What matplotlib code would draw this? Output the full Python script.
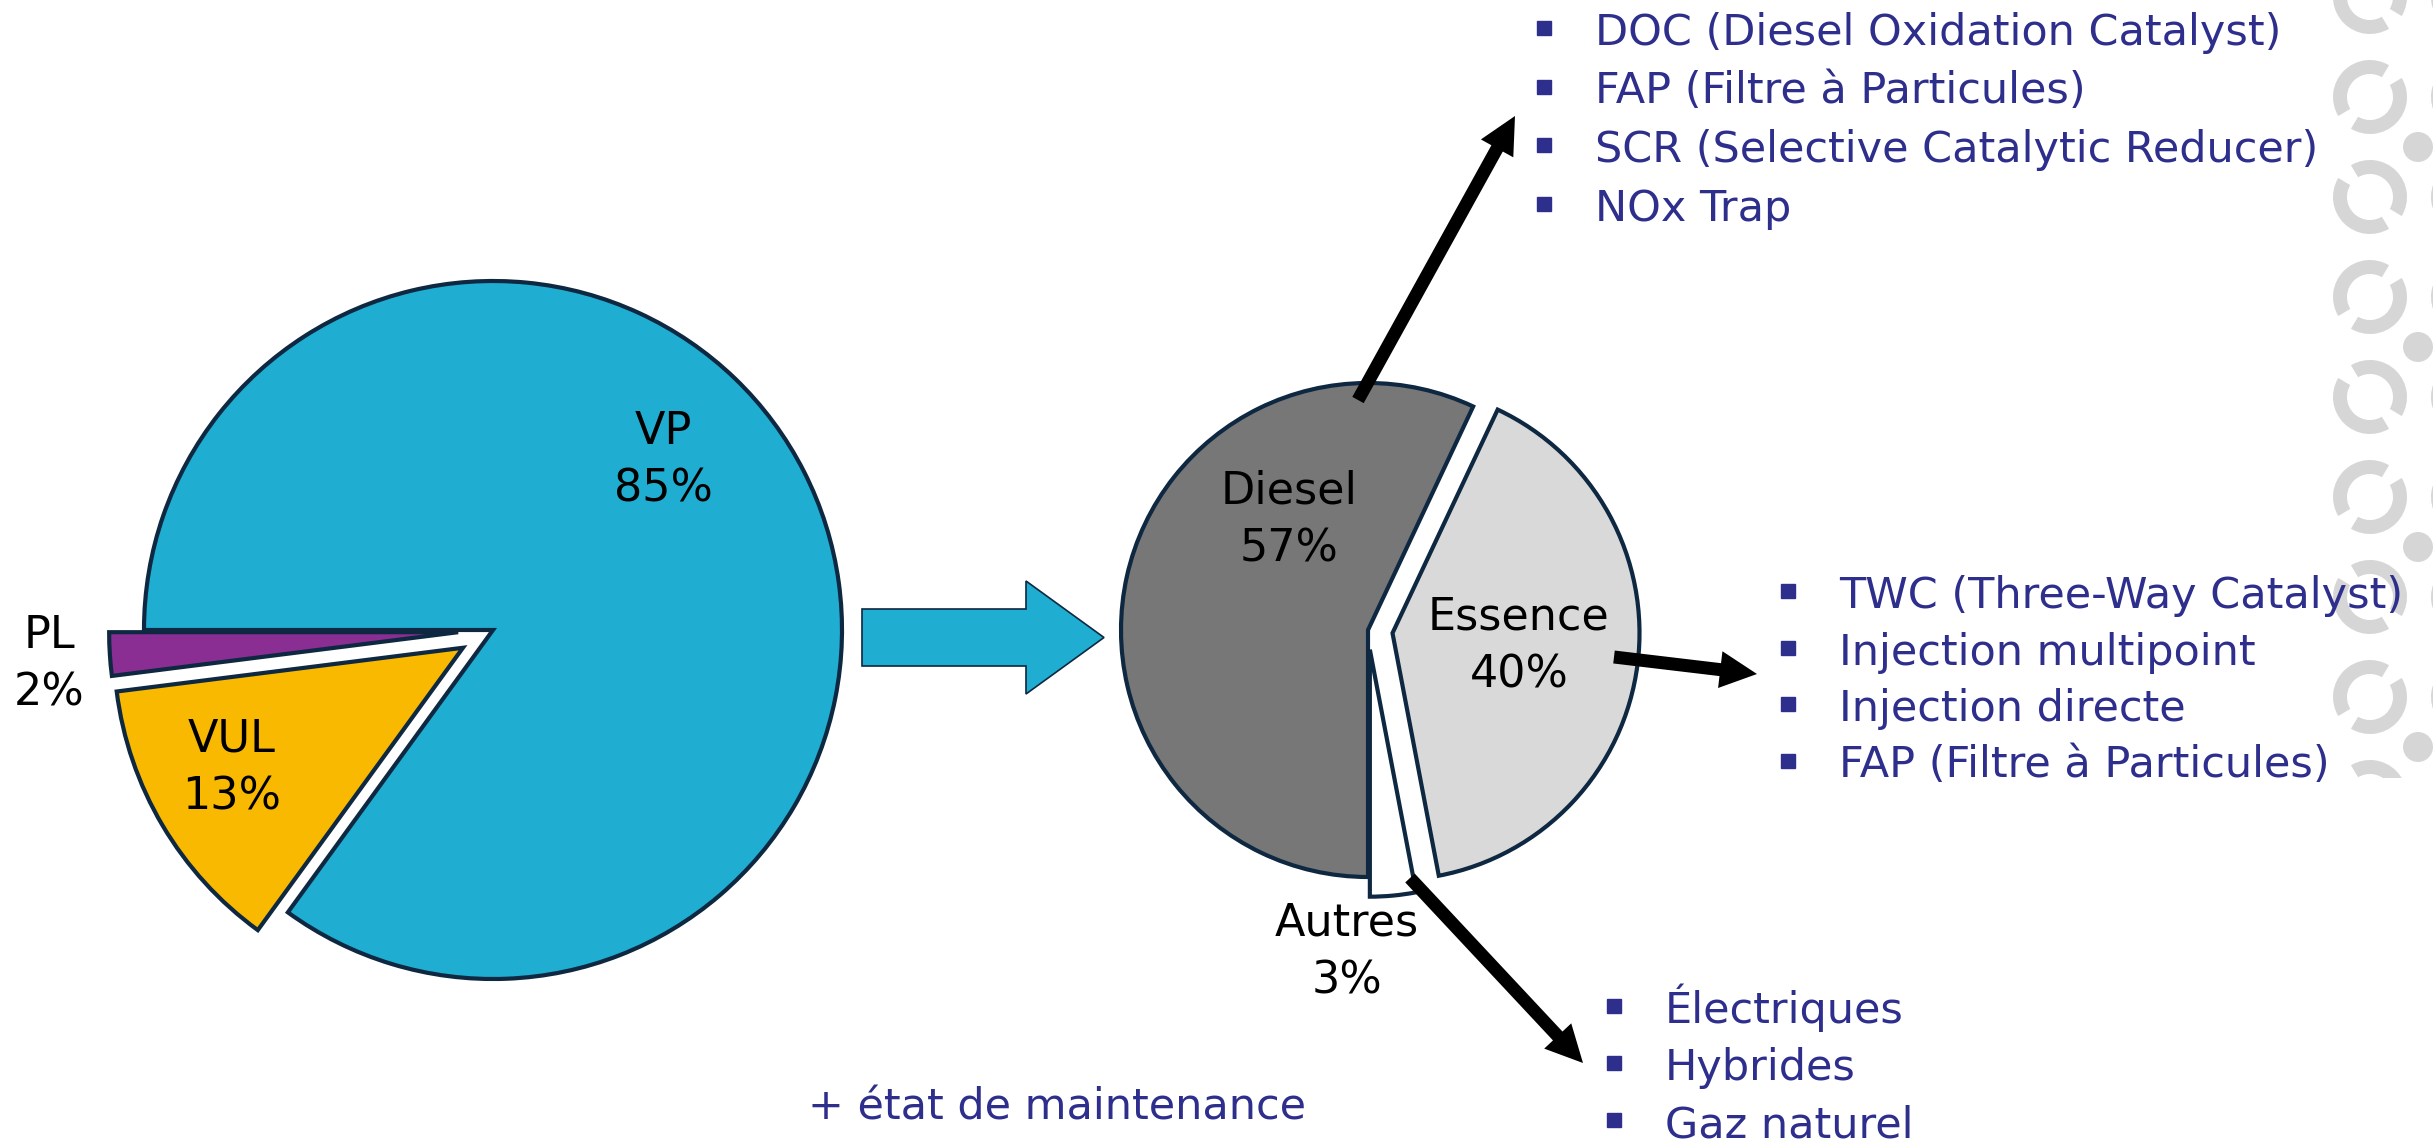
import matplotlib.pyplot as plt
import numpy as np
from matplotlib.patches import FancyArrow, Wedge, Circle, Rectangle

W, H = 2433, 1142

# data
fleet_labels = ['PL', 'VUL', 'VP']
fleet_share = [2, 13, 85]
fuel_labels = ['Autres', 'Essence', 'Diesel']
fuel_share = [3, 40, 57]
diesel_items = ['DOC (Diesel Oxidation Catalyst)', 'FAP (Filtre à Particules)',
                'SCR (Selective Catalytic Reducer)', 'NOx Trap']
essence_items = ['TWC (Three-Way Catalyst)', 'Injection multipoint',
                 'Injection directe', 'FAP (Filtre à Particules)']
autres_items = ['Électriques', 'Hybrides', 'Gaz naturel']
note = '+ état de maintenance'

NAVY = '#0E2841'
TXT = '#2E2E8C'
CYAN = '#1FAED1'
ORN = '#D6D6D6'

plt.rcParams['font.family'] = 'DejaVu Sans'

fig = plt.figure(figsize=(W / 100, H / 100), dpi=100)
ax = fig.add_axes([0, 0, 1, 1])


def Y(y):
    # pixel row -> data y (y axis points up)
    return H - y


# background ornament on the right edge
clip = Rectangle((2333, Y(778)), 200, 800, transform=ax.transData)
gap = 14
for i, yc in enumerate(np.arange(-3, 800, 100)):
    g1, g2 = (45, 225) if i % 2 else (135, 315)
    for xc in (2370, 2468):
        for t1, t2 in ((g1 + gap, g2 - gap), (g2 + gap, g1 + 360 - gap)):
            w = Wedge((xc, Y(yc)), 37, t1, t2, width=14, color=ORN, lw=0, zorder=0)
            ax.add_patch(w)
            w.set_clip_path(clip)
for yc in np.arange(147, 800, 200):
    c = Circle((2418, Y(yc)), 15, color=ORN, lw=0, zorder=0)
    ax.add_patch(c)
    c.set_clip_path(clip)

wp = dict(edgecolor=NAVY, linewidth=3.0)

# left pie: vehicle categories
r1 = 349
ax.pie(fleet_share, colors=['#8B2E94', '#F9B900', CYAN], startangle=180,
       counterclock=True, radius=r1, center=(493, Y(630)),
       explode=[0.1 * r1, 0.1 * r1, 0], wedgeprops=wp)

# right pie: fuel of VP
r2 = 247
ax.pie(fuel_share, colors=['white', '#D9D9D9', '#777777'], startangle=270,
       counterclock=True, radius=r2, center=(1368, Y(630)),
       explode=[0.08 * r2, 0.1 * r2, 0], wedgeprops=wp)


def pie_label(x, c, name, val):
    ax.text(x, Y(c - 13), name, ha='center', va='baseline', fontsize=32, zorder=5)
    ax.text(x, Y(c + 45), f'{val}%', ha='center', va='baseline', fontsize=32, zorder=5)


fleet_pos = [(49, 661), (232, 765), (663, 457)]
fuel_pos = [(1347, 948), (1519, 642), (1289, 516)]
for (x, c), name, val in zip(fleet_pos, fleet_labels, fleet_share):
    pie_label(x, c, name, val)
for (x, c), name, val in zip(fuel_pos, fuel_labels, fuel_share):
    pie_label(x, c, name, val)

# big blue arrow between the pies
ax.add_patch(FancyArrow(862, Y(637.5), 242, 0, width=57, head_width=113, head_length=78,
                        length_includes_head=True, fc=CYAN, ec=NAVY, lw=1.2, zorder=3))

# black pointer arrows
for (x0, y0), (x1, y1) in [((1358, 400), (1515, 116)),
                           ((1614, 657), (1757, 674)),
                           ((1410, 878), (1583, 1063))]:
    ax.add_patch(FancyArrow(x0, Y(y0), x1 - x0, -(y1 - y0), width=13, head_width=37,
                            head_length=37, length_includes_head=True,
                            fc='black', ec='none', zorder=6))


def bullet_list(items, xb, xt, y0, step):
    for k, item in enumerate(items):
        yb = y0 + k * step
        ax.plot(xb, Y(yb - 17), marker='s', ms=10, color=TXT, ls='none', zorder=5)
        ax.text(xt, Y(yb), item, fontsize=31, color=TXT, ha='left', va='baseline', zorder=5)


bullet_list(diesel_items, 1544, 1595, 45, 58.5)
bullet_list(essence_items, 1788, 1839, 608, 56.5)
bullet_list(autres_items, 1614, 1665, 1023, 57)

ax.text(808, Y(1120), note, fontsize=31, color=TXT, ha='left', va='baseline')

ax.set_xlim(0, W)
ax.set_ylim(0, H)
ax.set_aspect('equal')
ax.axis('off')

fig.savefig('out.png', dpi=100)
